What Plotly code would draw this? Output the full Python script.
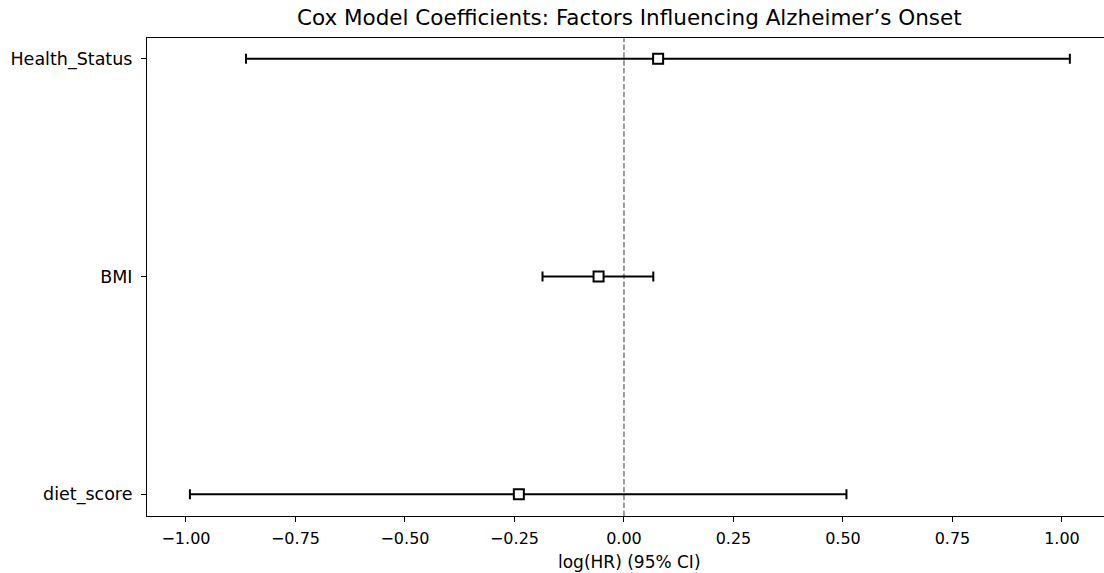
import plotly.graph_objects as go

# Data
covariates = ["Health_Status", "BMI", "diet_score"]
coef = [0.078, -0.058, -0.240]
ci_lower = [-0.863, -0.186, -0.991]
ci_upper = [1.018, 0.067, 0.508]

x_ticks = [-1.00, -0.75, -0.50, -0.25, 0.00, 0.25, 0.50, 0.75, 1.00]
x_ticktext = ["\u22121.00", "\u22120.75", "\u22120.50", "\u22120.25", "0.00", "0.25", "0.50", "0.75", "1.00"]

err_plus = [u - c for u, c in zip(ci_upper, coef)]
err_minus = [c - l for c, l in zip(coef, ci_lower)]

FONT = "DejaVu Sans"

fig = go.Figure()
fig.add_trace(go.Scatter(
    x=coef, y=covariates, mode="markers",
    marker=dict(symbol="square", size=10, color="white",
                line=dict(color="black", width=2)),
    error_x=dict(type="data", symmetric=False, array=err_plus, arrayminus=err_minus,
                 color="black", thickness=2, width=5),
    showlegend=False, hoverinfo="skip",
))

fig.add_shape(type="line", x0=0, x1=0, xref="x", y0=0, y1=1, yref="paper",
              line=dict(color="#808080", width=1.5, dash="5.5px,2.4px"), layer="below")

fig.update_layout(
    width=1104, height=573,
    margin=dict(l=147, r=0, t=38, b=57),
    paper_bgcolor="white", plot_bgcolor="white",
    font=dict(family=FONT, size=16.5, color="black"),
    title=dict(text="Cox Model Coefficients: Factors Influencing Alzheimer\u2019s Onset",
               x=0.504, xref="paper", xanchor="center",
               y=1 - 17.5 / 573, yref="container", yanchor="middle",
               font=dict(family=FONT, size=21.5, color="black")),
    annotations=[dict(text="log(HR) (95% CI)", x=0.504, xref="paper", xanchor="center",
                      y=-0.0956, yref="paper", yanchor="middle", showarrow=False,
                      font=dict(family=FONT, size=17, color="black"))],
)

fig.update_xaxes(range=[-1.089, 1.096], tickvals=x_ticks, ticktext=x_ticktext,
                 tickfont=dict(family=FONT, size=16, color="black"),
                 ticklabelstandoff=3,
                 showgrid=False, zeroline=False, showline=True, mirror=True,
                 linecolor="black", linewidth=1.1, ticks="outside", ticklen=5,
                 tickwidth=1.1, tickcolor="black")
fig.update_yaxes(categoryorder="array", categoryarray=covariates[::-1],
                 tickfont=dict(family=FONT, size=17.5, color="black"),
                 ticklabelstandoff=5,
                 range=[-0.1, 2.095], showgrid=False, zeroline=False,
                 showline=True, mirror=False, linecolor="black", linewidth=1.1,
                 ticks="outside", ticklen=5, tickwidth=1.1, tickcolor="black")

fig.write_html("out.html", config={"displayModeBar": False},
               post_script="document.body.style.margin='0px';document.body.style.overflow='hidden';")
